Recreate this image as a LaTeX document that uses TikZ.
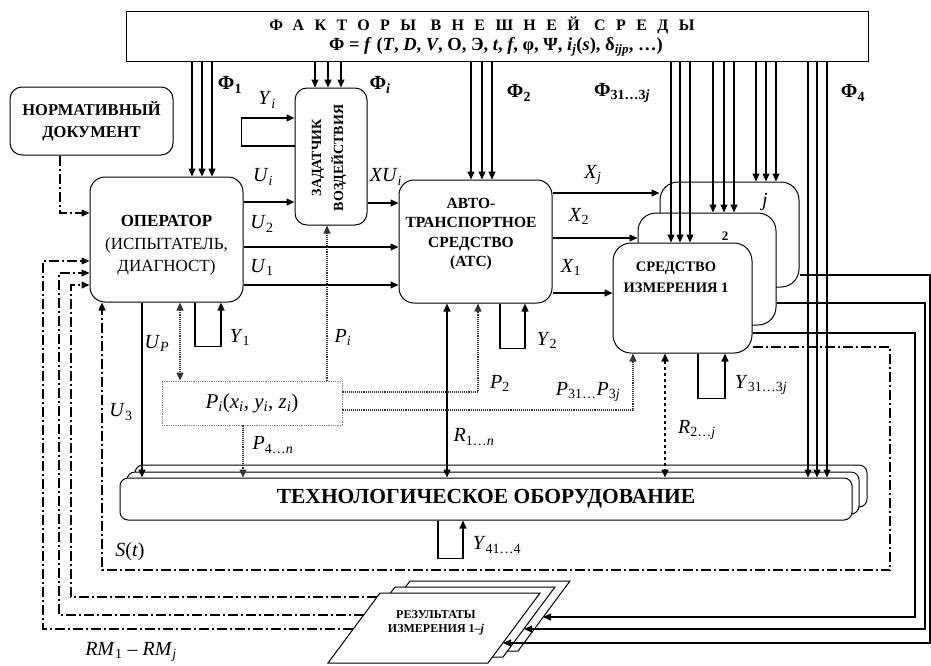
\documentclass[tikz,border=0pt]{standalone}
\usepackage{fontspec}
\setmainfont{Liberation Serif}
\usetikzlibrary{arrows.meta,positioning,calc}
\newcommand{\ix}[2]{\textit{#1}\textsubscript{#2}}
\newcommand{\fb}[1]{\textbf{Φ}\textsubscript{\textbf{#1}}}

\begin{document}
\begin{tikzpicture}[x=1pt,y=-1pt,
  box/.style={draw,line width=1pt,rounded corners=15pt,fill=white,inner sep=0pt,align=center},
  arr/.style={line width=1.1pt,-{Triangle[length=8pt,width=7pt]}},
  barr/.style={line width=1.1pt,{Triangle[length=8pt,width=7pt]}-{Triangle[length=8pt,width=7pt]}},
  ddot/.style={line width=1pt,dash pattern=on 10pt off 3pt on 2pt off 3pt},
  pdot/.style={line width=1.1pt,densely dotted,black!80},
  lbl/.style={font=\fontsize{20}{20}\selectfont},
  btxt/.style={font=\fontsize{15.5}{19.5}\selectfont\bfseries,align=center}]
\useasboundingbox (0,0) rectangle (931,665);
\node[draw,line width=1pt,minimum width=742pt,minimum height=50pt,inner sep=0pt] (env) at (497,36) {};
\node[font=\fontsize{16}{16}\selectfont\bfseries\addfontfeature{LetterSpace=65}] (envt) at (482,25) {ФАКТОРЫ ВНЕШНЕЙ СРЕДЫ};
\node[font=\fontsize{18.5}{18.5}\selectfont\bfseries] (envf) at (496,47) {Φ = \textit{f} (\textit{T}, \textit{D}, \textit{V}, O, Э, \textit{t}, \textit{f}, φ, Ψ, \textit{i}\textsubscript{\textit{j}}(\textit{s}), δ\textsubscript{\textit{ijp}}, …)};
\node[box,rounded corners=12pt,minimum width=163pt,minimum height=68pt,font=\fontsize{16.5}{22}\selectfont\bfseries] (norm) at (91.5,121) {НОРМАТИВНЫЙ\\ДОКУМЕНТ};
\node[box,minimum width=153pt,minimum height=125pt] (op) at (166.5,239.5) {};
\node[font=\fontsize{17}{22.5}\selectfont,align=center] (opt) at (166.5,245.5) {\textbf{ОПЕРАТОР}\\(ИСПЫТАТЕЛЬ,\\ДИАГНОСТ)};
\node[box,rounded corners=12pt,minimum width=72pt,minimum height=137pt] (zad) at (331,156.5) {};
\node[rotate=90,font=\fontsize{14}{22}\selectfont\bfseries,align=center] (zadt) at (329,158) {ЗАДАТЧИК\\ВОЗДЕЙСТВИЯ};
\node[box,minimum width=153pt,minimum height=123pt] (atc) at (475.5,241.5) {};
\node[btxt] (atct) at (471,234) {АВТО-\\ТРАНСПОРТНОЕ\\СРЕДСТВО\\(АТС)};
\node[box,rounded corners=18pt,minimum width=139pt,minimum height=105pt] (sij) at (729.5,234.5) {};
\node[box,rounded corners=18pt,minimum width=138pt,minimum height=112pt] (si2) at (707,269) {};
\node[box,rounded corners=18pt,minimum width=139pt,minimum height=110pt] (si1) at (682.5,298) {};
\node[btxt,font=\fontsize{14.5}{21}\selectfont\bfseries] (si1t) at (676,277) {СРЕДСТВО\\ИЗМЕРЕНИЯ 1};
\node[lbl] (sijn) at (765,202) {\textit{j}};
\node[font=\fontsize{13}{13}\selectfont\bfseries] (si2n) at (725,236) {2};
\node[draw=gray,densely dotted,line width=0.8pt,minimum width=180pt,minimum height=44pt,text=black,font=\fontsize{21}{21}\selectfont] (pbox) at (252,403) {\ix{P}{\textit{i}}(\ix{x}{\textit{i}}, \ix{y}{\textit{i}}, \ix{z}{\textit{i}})};
\foreach \dx/\dy in {15/13,7/6} \node[box,rounded corners=8pt,minimum width=732pt,minimum height=42pt] (tech\dx) at (486+\dx,499-\dy) {};
\node[box,rounded corners=8pt,minimum width=732pt,minimum height=42pt,font=\fontsize{21.5}{21.5}\selectfont\bfseries] (tech) at (486,499) {ТЕХНОЛОГИЧЕСКОЕ ОБОРУДОВАНИЕ};
\foreach \dx/\dy in {30/12,15/6,0/0} \draw[line width=1pt,fill=white] (328+\dx,663-\dy) -- ++(52,-70) -- ++(160,0) -- ++(-52,70) -- cycle;
\node[font=\fontsize{12}{14}\selectfont\bfseries,align=center] (res) at (436,623) {РЕЗУЛЬТАТЫ\\ИЗМЕРЕНИЯ 1–\textit{j}};
\coordinate (r1) at (543,617);
\coordinate (r2) at (524,629);
\coordinate (r3) at (503,643);
\coordinate (l1) at (377,597);
\coordinate (l2) at (364,615);
\coordinate (l3) at (353,629);
% external factors
\foreach \x in {192,202,212} \draw[arr] (\x,0 |- env.south) -- (\x,0 |- op.north);
\foreach \x in {315,328,341} \draw[arr] (\x,0 |- env.south) -- (\x,0 |- zad.north);
\foreach \x in {471,482,492} \draw[arr] (\x,0 |- env.south) -- (\x,0 |- atc.north);
\foreach \x in {671,680,690} \draw[arr] (\x,0 |- env.south) -- (\x,0 |- si1.north);
\foreach \x in {713,724,734} \draw[arr] (\x,0 |- env.south) -- (\x,0 |- si2.north);
\foreach \x in {756,766,776} \draw[arr] (\x,0 |- env.south) -- (\x,0 |- sij.north);
\foreach \x in {808,817,827} \draw[arr] (\x,0 |- env.south) -- (\x,0 |- tech.north);
% forward chain
\draw[ddot,arr] (60,0 |- norm.south) |- (op.west |- 0,213);
\draw[arr] (zad.west |- 0,146) -- ++(-53,0) |- (zad.west |- 0,118);
\draw[arr] (op.east |- 0,202) -- (zad.west |- 0,202);
\draw[arr] (op.east |- 0,247) -- (atc.west |- 0,247);
\draw[arr] (op.east |- 0,285) -- (atc.west |- 0,285);
\draw[arr] (zad.east |- 0,203) -- (atc.west |- 0,203);
\draw[arr] (atc.east |- 0,193) -- (sij.west |- 0,193);
\draw[arr] (atc.east |- 0,238) -- (si2.west |- 0,238);
\draw[arr] (atc.east |- 0,293) -- (si1.west |- 0,293);
% lower links
\draw[arr] (142,0 |- op.south) -- (142,0 |- tech.north);
\draw[pdot,barr] (180,0 |- op.south) -- (180,0 |- pbox.north);
\draw[arr] (195,0 |- op.south) -- ++(0,44) -| (221,0 |- op.south);
\draw[pdot,arr] (327,0 |- pbox.north) -- (327,0 |- zad.south);
\draw[pdot,arr] (243,0 |- pbox.south) -- (243,0 |- tech.north);
\draw[barr] (447,0 |- atc.south) -- (447,0 |- tech.north);
\draw[pdot,arr] (pbox.east |- 0,392) -| (478,0 |- atc.south);
\draw[arr] (500,0 |- atc.south) -- ++(0,45) -| (525,0 |- atc.south);
\draw[pdot,arr] (pbox.east |- 0,410) -| (633,0 |- si1.south);
\draw[barr,dashed,line width=1.6pt] (665,0 |- si1.south) -- (665,0 |- tech.north);
\draw[arr] (698,0 |- si1.south) -- ++(0,45) -| (725,0 |- si1.south);
\draw[arr] (438,0 |- tech.south) -- ++(0,38) -| (463,0 |- tech.south);
% feedback
\draw[ddot,arr,line width=1.3pt] (si1.east |- 0,347) -| (890,570) -| (102,0 |- op.south);
\draw[arr] (si1.east |- 0,333) -| (915,617) -- (r1);
\draw[arr] (si2.east |- 0,303) -| (925,629) -- (r2);
\draw[arr] (sij.east |- 0,275) -| (930,643) -- (r3);
\draw[ddot,arr] (l1) -| (71,285) -- (op.west |- 0,285);
\draw[ddot,arr] (l2) -| (59,273) -- (op.west |- 0,273);
\draw[ddot,arr] (l3) -| (43,261) -- (op.west |- 0,261);
% labels
\node[lbl] (f1) at (230,85) {\fb{1}};
\node[lbl] (fi) at (380,85) {\fb{\textit{i}}};
\node[lbl] (f2) at (519,93) {\fb{2}};
\node[lbl] (f3) at (622,93) {\fb{31…3\textit{j}}};
\node[lbl] (f4) at (853,93) {\fb{4}};
\node[lbl] (yi) at (267,100) {\ix{Y}{\textit{i}}};
\node[lbl] (ui) at (263,177) {\ix{U}{\textit{i}}};
\node[lbl] (xui) at (386,177) {\ix{XU}{\textit{i}}};
\node[lbl] (u2) at (262,224) {\ix{U}{2}};
\node[lbl] (u1) at (262,267) {\ix{U}{1}};
\node[lbl] (xj) at (593,175) {\ix{X}{\textit{j}}};
\node[lbl] (x2) at (579,216) {\ix{X}{2}};
\node[lbl] (x1) at (571,267) {\ix{X}{1}};
\node[lbl] (up) at (157,343) {\ix{U}{\textit{P}}};
\node[lbl] (y1) at (240,337) {\ix{Y}{1}};
\node[lbl] (pi) at (343,337) {\ix{P}{\textit{i}}};
\node[lbl] (p2) at (500,383) {\ix{P}{2}};
\node[lbl] (y2) at (547,340) {\ix{Y}{2}};
\node[lbl] (p3) at (588,392) {\ix{P}{31…}\ix{P}{3\textit{j}}};
\node[lbl] (y3) at (761,385) {\ix{Y}{31…3\textit{j}}};
\node[lbl] (r1n) at (474,437) {\ix{R}{1…\textit{n}}};
\node[lbl] (r2j) at (697,430) {\ix{R}{2…\textit{j}}};
\node[lbl] (p4) at (273,445) {\ix{P}{4…\textit{n}}};
\node[lbl] (u3) at (121,412) {\ix{U}{3}};
\node[lbl] (st) at (130,552) {\textit{S}(\textit{t})};
\node[lbl] (y4) at (497,545) {\ix{Y}{41…4}};
\node[lbl] (rm) at (131,652) {\ix{RM}{1} – \ix{RM}{\textit{j}}};
\end{tikzpicture}
\end{document}
